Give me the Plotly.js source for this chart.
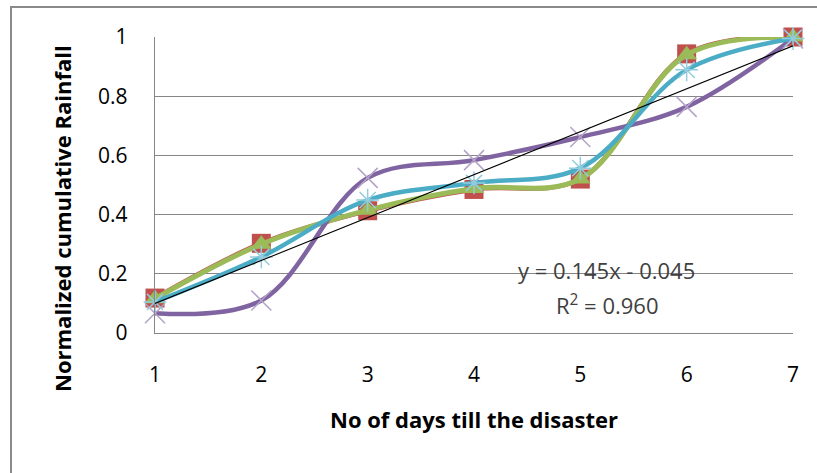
<!DOCTYPE html>
<html>
<head>
<meta charset="utf-8">
<script src="https://cdn.plot.ly/plotly-3.0.1.min.js"></script>
<style>
html,body{margin:0;padding:0;background:#fff;}
#chart{width:817px;height:473px;}
</style>
</head>
<body>
<div id="chart"></div>
<script>
// Days till the disaster (categories)
var days = [1, 2, 3, 4, 5, 6, 7];
var tickLabels = ['1', '2', '3', '4', '5', '6', '7'];
// Normalized cumulative rainfall series
var seriesRed    = [0.118, 0.303, 0.413, 0.485, 0.52, 0.943, 1.0];
var seriesGreen  = [0.116, 0.300, 0.415, 0.488, 0.52, 0.940, 1.0];
var seriesPurple = [0.067, 0.11, 0.524, 0.584, 0.662, 0.764, 0.995];
var seriesCyan   = [0.105, 0.257, 0.449, 0.507, 0.557, 0.889, 0.995];
// Linear trendline shown on the chart
var trendSlope = 0.145;
var trendIntercept = -0.045;
var trendR2 = 0.960;
var trendY = days.map(function (d) { return trendSlope * d + trendIntercept; });
var yTitle = 'Normalized cumulative Rainfall';
var xTitle = 'No of days till the disaster';

var FONT = 'Open Sans, Noto Sans, sans-serif';

function smooth(name, y, color, width, marker) {
  return {
    type: 'scatter', mode: 'lines+markers', name: name,
    x: days, y: y, cliponaxis: false,
    line: {color: color, width: width, shape: 'spline', smoothing: 1},
    marker: marker
  };
}

var traces = [
  smooth('Series red', seriesRed, '#C0504D', 4.5,
    {symbol: 'square', size: 19, color: '#C0504D', line: {width: 0}}),
  smooth('Series green', seriesGreen, '#9BBB59', 5,
    {symbol: 'triangle-up', size: 18, color: '#9BBB59', line: {width: 0}}),
  smooth('Series purple', seriesPurple, '#8064A2', 4.5,
    {symbol: 'x-thin-open', size: 20, color: '#B3A2C7', line: {color: '#B3A2C7', width: 1.5}}),
  smooth('Series cyan', seriesCyan, '#4BACC6', 4.5,
    {symbol: 'asterisk-open', size: 19, color: '#93CDDD', line: {color: '#93CDDD', width: 1.5}}),
  {
    type: 'scatter', mode: 'lines', name: 'Linear trend',
    x: days, y: trendY, cliponaxis: false,
    line: {color: '#000000', width: 1.1}
  }
];

var L = 155, R = 24, T = 37, B = 140, W = 817, H = 473;
var pw = W - L - R, ph = H - T - B;
function px2x(p) { return (p - L) / pw; }
function px2y(p) { return (H - B - p) / ph; }

var layout = {
  width: W, height: H,
  margin: {l: L, r: R, t: T, b: B, pad: 0},
  paper_bgcolor: '#ffffff', plot_bgcolor: '#ffffff',
  showlegend: false,
  font: {family: FONT, color: '#000000'},
  xaxis: {
    range: [1, 7], tickvals: days, ticktext: tickLabels,
    showgrid: false, zeroline: false,
    showline: true, linecolor: '#868686', linewidth: 1.3,
    ticks: 'outside', ticklen: 22, tickcolor: 'rgba(0,0,0,0)',
    tickfont: {family: FONT, size: 21, color: '#000000'},
    title: {text: xTitle, font: {family: FONT, size: 22, color: '#000000', weight: 'bold'}, standoff: 26}
  },
  yaxis: {
    range: [0, 1], tickvals: [0, 0.2, 0.4, 0.6, 0.8, 1], ticktext: ['0', '0.2', '0.4', '0.6', '0.8', '1'],
    showgrid: true, gridcolor: '#868686', gridwidth: 1.3,
    zeroline: false,
    showline: true, linecolor: '#868686', linewidth: 1.3,
    ticks: 'outside', ticklen: 22, tickcolor: 'rgba(0,0,0,0)',
    tickfont: {family: FONT, size: 21, color: '#000000'}
  },
  annotations: [
    {xref: 'paper', yref: 'paper', x: px2x(62), y: px2y(218), xanchor: 'center', yanchor: 'middle',
     text: yTitle, textangle: -90, showarrow: false,
     font: {family: FONT, size: 22, color: '#000000', weight: 'bold'}},
    {xref: 'paper', yref: 'paper', x: px2x(606), y: px2y(270), xanchor: 'center', yanchor: 'middle',
     text: 'y = ' + trendSlope.toFixed(3) + 'x - ' + Math.abs(trendIntercept).toFixed(3), showarrow: false,
     font: {family: FONT, size: 22, color: '#404040'}},
    {xref: 'paper', yref: 'paper', x: px2x(607), y: px2y(304), xanchor: 'center', yanchor: 'middle',
     text: 'R<sup>2</sup> = ' + trendR2.toFixed(3), showarrow: false,
     font: {family: FONT, size: 22, color: '#404040'}}
  ],
  shapes: [
    {type: 'rect', xref: 'paper', yref: 'paper', layer: 'above',
     x0: px2x(11), x1: px2x(830), y0: px2y(490), y1: px2y(7),
     line: {color: '#8a8a8a', width: 2}, fillcolor: 'rgba(0,0,0,0)'}
  ]
};

Plotly.newPlot('chart', traces, layout, {displayModeBar: false, staticPlot: true});
</script>
</body>
</html>
